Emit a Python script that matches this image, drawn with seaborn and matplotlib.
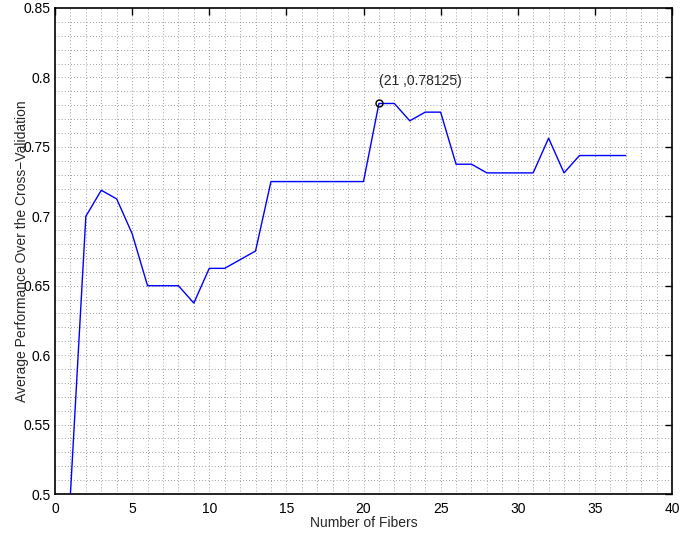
import matplotlib
matplotlib.use("Agg")
import matplotlib.pyplot as plt
import seaborn as sns
import numpy as np
import pandas as pd

fibers = list(range(1, 38))
performance = [0.5, 0.70, 0.71875, 0.7125, 0.6875, 0.65, 0.65, 0.65, 0.6375, 0.6625,
               0.6625, 0.66875, 0.675, 0.725, 0.725, 0.725, 0.725, 0.725, 0.725, 0.725,
               0.78125, 0.78125, 0.76875, 0.775, 0.775, 0.7375, 0.7375, 0.73125, 0.73125,
               0.73125, 0.73125, 0.75625, 0.73125, 0.74375, 0.74375, 0.74375, 0.74375]
best_x = 21
best_y = 0.78125
x_ticks = [0, 5, 10, 15, 20, 25, 30, 35, 40]
y_ticks = [0.5, 0.55, 0.6, 0.65, 0.7, 0.75, 0.8, 0.85]
y_tick_labels = ["0.5", "0.55", "0.6", "0.65", "0.7", "0.75", "0.8", "0.85"]

sns.set_style("white")
plt.rcParams['font.family'] = ['Liberation Sans', 'DejaVu Sans']

df = pd.DataFrame({"fibers": fibers, "perf": performance})

fig = plt.figure(figsize=(6.84, 5.35), dpi=100)
ax = fig.add_axes([55/684, 41/535, 617/684, 486/535])

# dotted grid at every unit in x and every 0.01 in y
for gx in np.arange(1, 40, 1):
    ax.axvline(gx, color="#444444", lw=0.5, ls=(0, (1, 3.5)), zorder=0)
for gy in np.arange(0.51, 0.85, 0.01):
    ax.axhline(gy, color="#444444", lw=0.5, ls=(0, (1, 3.5)), zorder=0)

sns.lineplot(data=df, x="fibers", y="perf", ax=ax, color="#0000ff", lw=1.0, zorder=3)
ax.plot([best_x], [best_y], marker="o", ms=5, mfc="none", mec="black", mew=1.0, zorder=4)
ax.text(best_x, 0.7975, "(21 ,0.78125)", fontsize=10, ha="left", va="center")

ax.set_xlim(0, 40)
ax.set_ylim(0.5, 0.85)
ax.set_xticks(x_ticks)
ax.set_xticklabels([str(t) for t in x_ticks])
ax.set_yticks(y_ticks)
ax.set_yticklabels(y_tick_labels)
ax.tick_params(direction="in", length=5, width=1, top=True, right=True,
               labelsize=10, colors="black")
ax.tick_params(axis="x", pad=6)
ax.tick_params(axis="y", pad=3)
ax.set_xlabel("Number of Fibers", fontsize=10, labelpad=0)
ax.set_ylabel("Average Performance Over the Cross\u2212Validation", fontsize=10, labelpad=-4)
for s in ax.spines.values():
    s.set_visible(True)
    s.set_color("black")
    s.set_linewidth(1.2)

fig.savefig("out.png", dpi=100)
